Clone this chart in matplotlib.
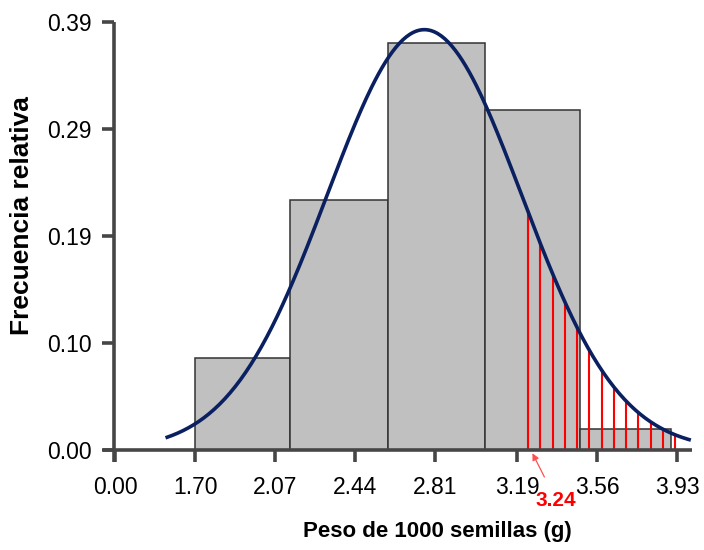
import numpy as np
import matplotlib.pyplot as plt

plt.rcParams["font.family"] = ["Liberation Sans", "DejaVu Sans"]

# class limits and relative frequencies of the histogram
bin_edges = [1.70, 2.14, 2.59, 3.04, 3.48, 3.90]
rel_freq = [0.084, 0.228, 0.371, 0.310, 0.019]

# fitted normal curve (mean, sd, peak height) and its range
curve_mean = 2.76
curve_sd = 0.45
curve_peak = 0.383
curve_from, curve_to = 1.57, 3.985

# tail area marked from the cut point
cut_value = 3.24
tail_end = 3.92
n_tail_lines = 13

x_ticks = [1.33, 1.70, 2.07, 2.44, 2.81, 3.19, 3.56, 3.93]
x_labels = ["0.00", "1.70", "2.07", "2.44", "2.81", "3.19", "3.56", "3.93"]
y_ticks = [0.0, 0.0975, 0.195, 0.2925, 0.39]
y_labels = ["0.00", "0.10", "0.19", "0.29", "0.39"]


def normal_curve(x):
    return curve_peak * np.exp(-0.5 * ((x - curve_mean) / curve_sd) ** 2)


fig = plt.figure(figsize=(7.04, 5.5), dpi=100)
ax = fig.add_axes([0.1393, 0.142, 0.8503, 0.838])

widths = np.diff(bin_edges)
ax.bar(bin_edges[:-1], rel_freq, width=widths, align="edge",
       color="#c0c0c0", edgecolor="#333333", linewidth=1.1, zorder=1)

# red lines under the curve from the cut point on
xs_tail = np.linspace(cut_value, tail_end, n_tail_lines)
ax.vlines(xs_tail, 0, normal_curve(xs_tail), color="#ff0000",
          linewidth=1.5, zorder=2)

xs = np.linspace(curve_from, curve_to, 300)
ax.plot(xs, normal_curve(xs), color="#0a2060", linewidth=2.6, zorder=3)

ax.annotate("3.24", xy=(cut_value + 0.02, -0.003), xytext=(cut_value + 0.13, -0.046),
            ha="center", va="center", color="#ff0000", fontsize=15,
            fontweight="bold", annotation_clip=False,
            arrowprops=dict(arrowstyle="-|>", color="#ff5050", lw=0.9,
                            shrinkA=9, shrinkB=0, mutation_scale=10))

ax.set_xlim(1.25, 4.02)
ax.set_ylim(-0.02, 0.40)

axis_color = "#464646"
for side in ["top", "right"]:
    ax.spines[side].set_visible(False)
ax.spines["left"].set_position(("data", 1.325))
ax.spines["left"].set_bounds(-0.011, 0.39)
ax.spines["bottom"].set_position(("data", 0))
ax.spines["bottom"].set_bounds(1.275, 3.998)
for side in ["left", "bottom"]:
    ax.spines[side].set_color(axis_color)
    ax.spines[side].set_linewidth(2.6)
    ax.spines[side].set_capstyle("butt")

ax.set_xticks(x_ticks)
ax.set_xticklabels(x_labels)
ax.set_yticks(y_ticks)
ax.set_yticklabels(y_labels)
ax.tick_params(axis="x", direction="out", length=8.5, width=2.6,
               color=axis_color, labelsize=16.5, pad=10)
ax.tick_params(axis="y", direction="out", length=9, width=2.6,
               color=axis_color, labelsize=16.5, pad=7)

fig.text(437 / 704, 1 - 531 / 550, "Peso de 1000 semillas (g)", ha="center",
         va="center", fontsize=16, fontweight="bold")
fig.text(22 / 704, 1 - 216 / 550, "Frecuencia relativa", ha="center",
         va="center", rotation=90, fontsize=19, fontweight="bold")

fig.savefig("out.png", dpi=100)
